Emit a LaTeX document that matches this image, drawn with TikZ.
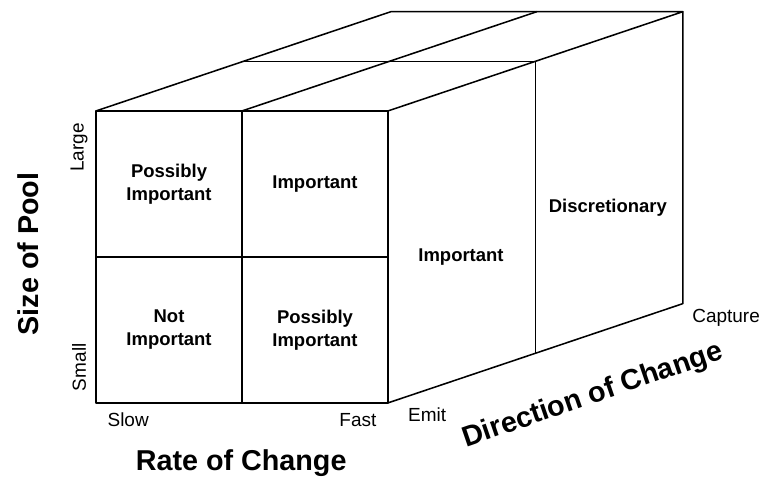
\documentclass[tikz,border=0pt]{standalone}
\usepackage{fontspec}
\setmainfont{Liberation Sans}
\usepackage{tikz}
\tikzset{
    cell/.style={font=\bfseries\fontsize{18}{22.5}\selectfont, align=center},
    tick/.style={font=\fontsize{18.5}{21}\selectfont},
    axis title/.style={font=\bfseries\fontsize{28}{32}\selectfont},
}

\begin{document}
\begin{tikzpicture}[line width=1.5pt, line join=round]
\useasboundingbox (-3.29,-2.6) rectangle (22.81,13.8);
% front face, split in four
\draw (0,0) rectangle (10,10);
\draw (5,0)--(5,10);
\draw (0,5)--(10,5);
% top face
\draw (0,10)--(10.1,13.4)--(20.1,13.4)--(10,10);
\draw (5,10)--(15.1,13.4);
\draw (5.05,11.7)--(15.05,11.7);
% right face
\draw (10,0)--(20.1,3.4)--(20.1,13.4);
\draw (15.05,1.7)--(15.05,11.7);
% cells
\node[cell] (tl) at (2.5,7.5) {Possibly\\Important};
\node[cell] (tr) at (7.5,7.5) {Important};
\node[cell] (bl) at (2.5,2.5) {Not\\Important};
\node[cell] (br) at (7.5,2.5) {Possibly\\Important};
\node[cell] (emit) at (12.5,5) {Important};
\node[cell] (capt) at (17.53,6.68) {Discretionary};
% tick labels
\node[tick, rotate=90] (large) at (-0.58,8.75) {Large};
\node[tick, rotate=90] (small) at (-0.58,1.22) {Small};
\node[tick] (slow) at (1.1,-0.58) {Slow};
\node[tick] (fast) at (8.97,-0.58) {Fast};
\node[tick] (emitlbl) at (11.34,-0.41) {Emit};
\node[tick] (captlbl) at (21.58,2.91) {Capture};
% axis titles
\node[axis title] (rate) at (4.97,-2.05) {Rate of Change};
\node[axis title, rotate=90] (size) at (-2.33,5.1) {Size of Pool};
\node[axis title, rotate=19] (direction) at (17.02,0.24) {Direction of Change};
\end{tikzpicture}
\end{document}
